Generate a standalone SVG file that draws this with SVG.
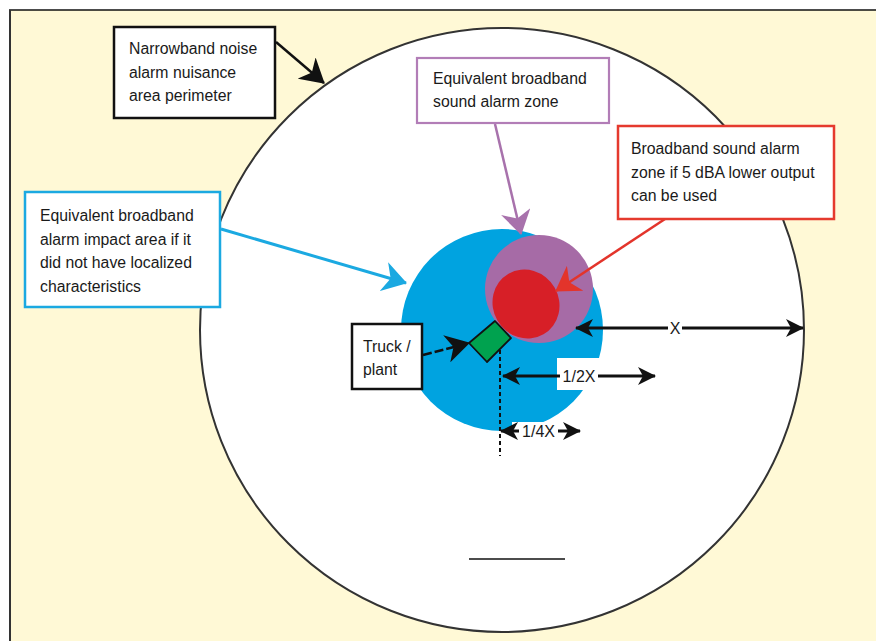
<svg xmlns="http://www.w3.org/2000/svg" width="876" height="641" viewBox="0 0 876 641">
<style>
text{font-family:"Liberation Sans",Arial,sans-serif;font-size:15.8px;fill:#1a1a1a}
.dim{font-size:16px}
.box{fill:#fff}
.dl{stroke:#111;stroke-width:2.8;fill:none}
</style>
<defs>
<marker id="ak" markerUnits="userSpaceOnUse" viewBox="0 0 24 28" refX="23" refY="14" markerWidth="24" markerHeight="28" orient="auto-start-reverse"><path d="M0,0 L24,14 L0,28 L7,14 Z" fill="#111"/></marker>
<marker id="ad" markerUnits="userSpaceOnUse" viewBox="0 0 18 18" refX="17" refY="9" markerWidth="18" markerHeight="18" orient="auto-start-reverse"><path d="M0,0 L18,9 L0,18 L5,9 Z" fill="#111"/></marker>
<marker id="ab" markerUnits="userSpaceOnUse" viewBox="0 0 24 30" refX="23" refY="15" markerWidth="24" markerHeight="30" orient="auto"><path d="M0,0 L24,15 L0,30 L7,15 Z" fill="#1BA9E1"/></marker>
<marker id="ap" markerUnits="userSpaceOnUse" viewBox="0 0 24 30" refX="23" refY="15" markerWidth="24" markerHeight="30" orient="auto"><path d="M0,0 L24,15 L0,30 L7,15 Z" fill="#A872AC"/></marker>
<marker id="ar" markerUnits="userSpaceOnUse" viewBox="0 0 24 30" refX="23" refY="15" markerWidth="24" markerHeight="30" orient="auto"><path d="M0,0 L24,15 L0,30 L7,15 Z" fill="#E3342B"/></marker>
</defs>
<rect width="876" height="641" fill="#fff"/>
<rect x="10" y="10" width="866" height="631" fill="#FFF9D6"/>
<line x1="9" y1="10" x2="876" y2="10" stroke="#111" stroke-width="1.5"/>
<line x1="10" y1="10" x2="10" y2="641" stroke="#333" stroke-width="2"/>

<g id="perimeter"><circle cx="502" cy="330" r="302" fill="#fff" stroke="#333" stroke-width="2"/></g>

<g id="impact-area">
<circle cx="502" cy="330" r="101" fill="#00A3E0"/>
<rect x="557" y="358" width="50" height="32" fill="#fff"/>
<rect x="512" y="422" width="40" height="12" fill="#fff"/>
</g>
<g id="sound-zone"><circle cx="539" cy="289" r="54" fill="#A66BA6"/></g>
<g id="lower-zone"><ellipse cx="526" cy="304" rx="35" ry="33" transform="rotate(60 526 304)" fill="#D71F27"/></g>
<g id="truck-symbol"><polygon points="469,343 495,321 511,338 487,362" fill="#00A24F" stroke="#111" stroke-width="1.8" stroke-linejoin="round"/></g>

<g id="connectors">
<line x1="276" y1="42" x2="324" y2="83" stroke="#111" stroke-width="2.5" marker-end="url(#ak)"/>
<line x1="221" y1="229" x2="406" y2="283" stroke="#1BA9E1" stroke-width="3" marker-end="url(#ab)"/>
<line x1="495" y1="124" x2="521" y2="234" stroke="#A872AC" stroke-width="2.5" marker-end="url(#ap)"/>
<line x1="665" y1="219" x2="556" y2="291" stroke="#E3342B" stroke-width="2.5" marker-end="url(#ar)"/>
<line x1="423" y1="355" x2="469" y2="343" stroke="#111" stroke-width="2.5" stroke-dasharray="9 3" marker-end="url(#ak)"/>
<line x1="500" y1="350" x2="500" y2="456" stroke="#111" stroke-width="2" stroke-dasharray="4 3"/>
<line class="dl" x1="576" y1="328" x2="803" y2="328" marker-start="url(#ad)" marker-end="url(#ad)"/>
<line class="dl" x1="503" y1="376" x2="655" y2="376" marker-start="url(#ad)" marker-end="url(#ad)"/>
<line class="dl" x1="501" y1="431" x2="580" y2="431" marker-start="url(#ad)" marker-end="url(#ad)"/>
</g>

<g id="dim-labels">
<rect x="668" y="320" width="14" height="16" fill="#fff"/>
<text class="dim" x="675" y="333.5" text-anchor="middle">X</text>
<rect x="560" y="368" width="38" height="16" fill="#fff"/>
<text class="dim" x="579" y="382" text-anchor="middle">1/2X</text>
<rect x="519" y="423" width="39" height="16" fill="#fff"/>
<text class="dim" x="538.5" y="437" text-anchor="middle">1/4X</text>
</g>

<g id="narrowband-label">
<rect class="box" x="114" y="27" width="161" height="91" stroke="#111" stroke-width="2.5"/>
<text x="129" y="54">Narrowband noise</text>
<text x="129" y="77.5">alarm nuisance</text>
<text x="129" y="101">area perimeter</text>
</g>
<g id="impact-label">
<rect class="box" x="25" y="192" width="195" height="115" stroke="#1BA9E1" stroke-width="2.5"/>
<text x="40" y="221">Equivalent broadband</text>
<text x="40" y="244.5">alarm impact area if it</text>
<text x="40" y="268">did not have localized</text>
<text x="40" y="291.5">characteristics</text>
</g>
<g id="sound-zone-label">
<rect class="box" x="417" y="58" width="192" height="65" stroke="#B27DB7" stroke-width="2.2"/>
<text x="433" y="84">Equivalent broadband</text>
<text x="433" y="107">sound alarm zone</text>
</g>
<g id="lower-zone-label">
<rect class="box" x="618" y="126" width="216" height="93" stroke="#E53A2E" stroke-width="2.5"/>
<text x="631" y="154">Broadband sound alarm</text>
<text x="631" y="177.5">zone if 5 dBA lower output</text>
<text x="631" y="201">can be used</text>
</g>
<g id="truck-label">
<rect class="box" x="352" y="324" width="70" height="65" stroke="#111" stroke-width="2.5"/>
<text x="363" y="352">Truck /</text>
<text x="363" y="375">plant</text>
</g>
<line x1="469" y1="559" x2="565" y2="559" stroke="#111" stroke-width="1.3"/>
</svg>
